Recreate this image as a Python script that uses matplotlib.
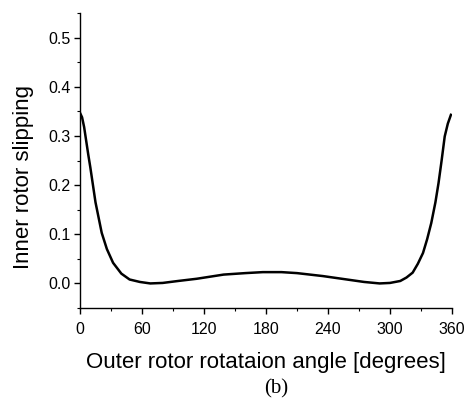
import matplotlib
matplotlib.use("Agg")
import matplotlib.pyplot as plt
from matplotlib.ticker import MultipleLocator

# values
angle_deg = [0, 2, 4, 6, 8, 10, 15, 21, 26, 32, 40, 48, 58, 68, 80, 95, 113, 139,
             160, 177, 195, 210, 235, 255, 275, 290, 300, 310, 316, 322, 327,
             332, 336, 340, 344, 347, 350, 353, 356, 359]
slipping = [0.347, 0.338, 0.318, 0.290, 0.262, 0.236, 0.165, 0.103, 0.070, 0.042,
            0.020, 0.008, 0.003, 0.000, 0.001, 0.005, 0.0095, 0.018, 0.021,
            0.023, 0.023, 0.021, 0.015, 0.009, 0.003, 0.000, 0.001, 0.005,
            0.012, 0.022, 0.040, 0.062, 0.090, 0.123, 0.165, 0.204, 0.250,
            0.299, 0.325, 0.343]

plt.rcParams["font.family"] = ["Liberation Sans", "DejaVu Sans"]

fig = plt.figure(figsize=(4.72, 4.04), dpi=100)
ax = fig.add_axes([0.1695, 0.2376, 0.788, 0.730])

ax.plot(angle_deg, slipping, color="black", linewidth=1.8)

ax.set_xlim(0, 360)
ax.set_ylim(-0.05, 0.55)
ax.xaxis.set_major_locator(MultipleLocator(60))
ax.xaxis.set_minor_locator(MultipleLocator(30))
ax.yaxis.set_minor_locator(MultipleLocator(0.05))
ax.set_yticks([0.0, 0.1, 0.2, 0.3, 0.4, 0.5])
ax.set_yticklabels(["0.0", "0.1", "0.2", "0.3", "0.4", "0.5"])

ax.tick_params(which="major", direction="out", length=4, width=1, labelsize=11.5)
ax.tick_params(axis="x", which="major", pad=6)
ax.tick_params(axis="y", which="major", pad=3)
ax.tick_params(which="minor", direction="out", length=2.5, width=0.8)

for side in ("top", "right"):
    ax.spines[side].set_visible(False)
for side in ("left", "bottom"):
    ax.spines[side].set_linewidth(1.0)

ax.set_xlabel("Outer rotor rotataion angle [degrees]", fontsize=16, labelpad=11)
ax.set_ylabel("Inner rotor slipping", fontsize=16)
ax.yaxis.set_label_coords(-0.125, 0.445)

fig.text(0.585, 0.038, "(b)", fontsize=15, family=["Liberation Serif", "DejaVu Serif"],
         ha="center", va="center")

fig.savefig("out.png", dpi=100)
